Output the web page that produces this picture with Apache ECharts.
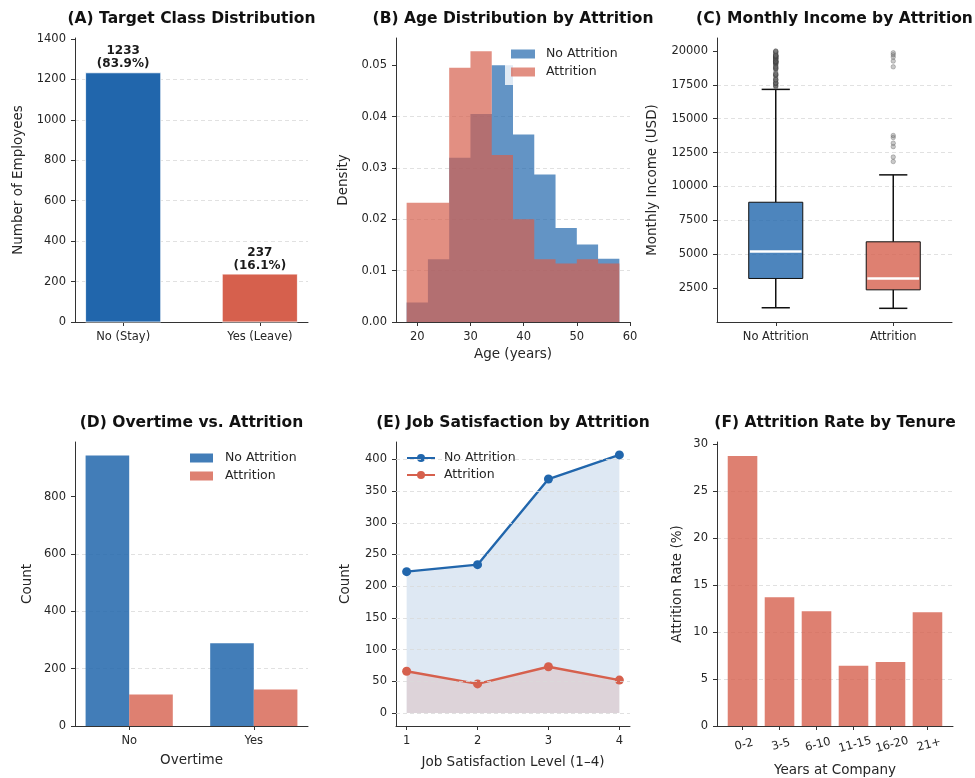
<!DOCTYPE html>
<html>
<head>
<meta charset="utf-8">
<title>Employee Attrition Overview</title>
<script src="https://cdn.jsdelivr.net/npm/echarts@6/dist/echarts.min.js"></script>
<style>
  html, body { margin: 0; padding: 0; background: #ffffff; }
  #chart { width: 975px; height: 778px; }
</style>
</head>
<body>
<div id="chart"></div>
<script>
// ---------------- data ----------------
const panelTitles = [
  '(A) Target Class Distribution',
  '(B) Age Distribution by Attrition',
  '(C) Monthly Income by Attrition',
  '(D) Overtime vs. Attrition',
  '(E) Job Satisfaction by Attrition',
  '(F) Attrition Rate by Tenure'
];

// (A) class balance
const classLabels = ['No (Stay)', 'Yes (Leave)'];
const classCounts = [1233, 237];

// (B) age histogram (density), bins of 4 years
const ageBinEdges = [18, 22, 26, 30, 34, 38, 42, 46, 50, 54, 58];
const ageDensityStay  = [0.0038, 0.0122, 0.0320, 0.0405, 0.0500, 0.0365, 0.0287, 0.0183, 0.0151, 0.0123];
const ageDensityLeave = [0.0232, 0.0232, 0.0495, 0.0527, 0.0325, 0.0200, 0.0122, 0.0114, 0.0122, 0.0114];

// (C) monthly income box statistics: [lower whisker, Q1, median, Q3, upper whisker]
const incomeGroups = ['No Attrition', 'Attrition'];
const incomeStayBox  = [1051, 3211, 5204, 8834, 17159];
const incomeLeaveBox = [1009, 2373, 3202, 5916, 10854];
const incomeStayOutliers = [17328, 17399, 17426, 17465, 17567, 17584, 17603, 17639, 17650, 17665,
  17779, 17856, 17861, 17875, 17924, 18041, 18172, 18200, 18213, 18265, 18300, 18303, 18430,
  18606, 18665, 18711, 18722, 18740, 18789, 18844, 18880, 18947, 19033, 19045, 19068, 19094,
  19141, 19144, 19161, 19187, 19189, 19197, 19202, 19232, 19237, 19246, 19272, 19294, 19328,
  19392, 19406, 19419, 19431, 19436, 19502, 19513, 19517, 19537, 19566, 19586, 19613, 19626,
  19627, 19636, 19658, 19665, 19701, 19740, 19833, 19847, 19926, 19943, 19973, 19999];
const incomeLeaveOutliers = [11836, 12169, 12936, 13194, 13610, 13758, 18824, 19246, 19545, 19717, 19859];

// (D) overtime
const overtimeLabels = ['No', 'Yes'];
const overtimeStay  = [944, 289];
const overtimeLeave = [110, 127];

// (E) job satisfaction
const satisfactionLevels = [1, 2, 3, 4];
const satisfactionStay  = [223, 234, 369, 407];
const satisfactionLeave = [66, 46, 73, 52];

// (F) attrition rate by tenure
const tenureLabels = ['0-2', '3-5', '6-10', '11-15', '16-20', '21+'];
const tenureRate = [28.7, 13.7, 12.2, 6.4, 6.8, 12.1];

// tick values
const ticksA  = [0, 200, 400, 600, 800, 1000, 1200, 1400];
const ticksBy = [0, 0.01, 0.02, 0.03, 0.04, 0.05];
const ticksBx = [20, 30, 40, 50, 60];
const ticksC  = [2500, 5000, 7500, 10000, 12500, 15000, 17500, 20000];
const ticksD  = [0, 200, 400, 600, 800];
const ticksE  = [0, 50, 100, 150, 200, 250, 300, 350, 400];
const ticksF  = [0, 5, 10, 15, 20, 25, 30];

// ---------------- styling ----------------
const FONT = '"DejaVu Sans", sans-serif';
const AXIS_COLOR = '#333333';
const TEXT_COLOR = '#262626';
const BLUE = '#2166ac';
const RED = '#d6604d';
const HIST_BLUE = 'rgba(33,102,172,0.7)';
const HIST_RED = 'rgba(214,96,77,0.7)';
const BAR_BLUE = 'rgba(33,102,172,0.85)';
const BAR_RED = 'rgba(214,96,77,0.8)';
const GRID_LINE = { color: '#d9d9d9', width: 0.8, type: [4, 3] };

const grids = [
  { left: 75,  top: 38,  width: 233, height: 284 },
  { left: 396, top: 38,  width: 234, height: 284 },
  { left: 717, top: 38,  width: 235, height: 284 },
  { left: 75,  top: 442, width: 233, height: 284 },
  { left: 396, top: 442, width: 234, height: 284 },
  { left: 717, top: 442, width: 236, height: 284 }
];

function yAxisOf(g, min, max, interval, ticks, fmt, name, nameGap, showGrid) {
  return {
    type: 'value', gridIndex: g, min: min, max: max, interval: interval,
    name: name, nameLocation: 'middle', nameGap: nameGap, nameRotate: 90,
    nameTextStyle: { fontFamily: FONT, fontSize: 13.5, color: TEXT_COLOR },
    axisLine: { show: true, onZero: false, lineStyle: { color: AXIS_COLOR, width: 1 } },
    axisTick: { show: true, length: 4, customValues: ticks, lineStyle: { color: AXIS_COLOR, width: 1 } },
    axisLabel: { customValues: ticks, formatter: fmt, margin: 9, fontFamily: FONT, fontSize: 11.5, color: TEXT_COLOR },
    splitLine: { show: showGrid, showMinLine: false, showMaxLine: false, lineStyle: GRID_LINE }
  };
}

function xAxisOf(g, min, max, ticks, fmt, name, nameGap, labelExtra) {
  return {
    type: 'value', gridIndex: g, min: min, max: max,
    name: name, nameLocation: 'middle', nameGap: nameGap,
    nameTextStyle: { fontFamily: FONT, fontSize: 13.5, color: TEXT_COLOR },
    axisLine: { show: true, onZero: false, lineStyle: { color: AXIS_COLOR, width: 1 } },
    axisTick: { show: true, length: 4, customValues: ticks, lineStyle: { color: AXIS_COLOR, width: 1 } },
    axisLabel: Object.assign({ customValues: ticks, formatter: fmt, margin: 9, fontFamily: FONT, fontSize: 11.5, color: TEXT_COLOR }, labelExtra || {}),
    splitLine: { show: false }
  };
}

const byIndex = (labels) => (v) => labels[Math.round(v)] || '';

// rectangle from data-space corners
function rectFromCoords(api, x0, x1, y0, y1, style) {
  const a = api.coord([x0, y1]);
  const b = api.coord([x1, y0]);
  return { type: 'rect', shape: { x: a[0], y: a[1], width: b[0] - a[0], height: b[1] - a[1] }, style: style };
}

// ---------------- series ----------------
const classTotal = classCounts.reduce((s, v) => s + v, 0);
const classColors = [BLUE, RED];

const seriesA = {
  type: 'custom', xAxisIndex: 0, yAxisIndex: 0, clip: false,
  data: classCounts.map((c, i) => [i, c]),
  encode: { x: 0, y: 1 },
  renderItem: function (params, api) {
    const i = api.value(0), v = api.value(1);
    const bar = rectFromCoords(api, i - 0.275, i + 0.275, 0, v, { fill: classColors[params.dataIndex], stroke: '#ffffff', lineWidth: 0.8 });
    const top = api.coord([i, v]);
    const pct = (v / classTotal * 100).toFixed(1);
    return {
      type: 'group',
      children: [bar, {
        type: 'text', x: top[0], y: top[1] - 2,
        style: {
          text: v + '\n(' + pct + '%)', align: 'center', verticalAlign: 'bottom',
          fontFamily: FONT, fontSize: 12, fontWeight: 'bold', fill: '#1a1a1a', lineHeight: 13
        }
      }]
    };
  }
};

// histogram drawn as a stepped filled area from bin edges
function histSeries(name, density, color) {
  const pts = density.map((d, i) => [ageBinEdges[i], d]);
  pts.push([ageBinEdges[ageBinEdges.length - 1], density[density.length - 1]]);
  return {
    type: 'line', name: name, xAxisIndex: 1, yAxisIndex: 1,
    data: pts, step: 'end', symbol: 'none', showSymbol: false,
    lineStyle: { width: 0, opacity: 0 },
    itemStyle: { color: color },
    areaStyle: { color: color, opacity: 1 }
  };
}

const boxColors = ['rgba(33,102,172,0.8)', 'rgba(214,96,77,0.8)'];
const seriesCBox = {
  type: 'custom', xAxisIndex: 2, yAxisIndex: 2,
  data: [[1].concat(incomeStayBox), [2].concat(incomeLeaveBox)],
  encode: { x: 0, y: [1, 2, 3, 4, 5] },
  z: 3,
  renderItem: function (params, api) {
    const x = api.value(0);
    const lo = api.value(1), q1 = api.value(2), med = api.value(3), q3 = api.value(4), hi = api.value(5);
    const half = 0.23, cap = 0.12;
    const P = (a, b) => api.coord([a, b]);
    const seg = (p, q, style) => ({ type: 'line', shape: { x1: p[0], y1: p[1], x2: q[0], y2: q[1] }, style: style });
    const ink = { stroke: '#111111', lineWidth: 1.5 };
    return {
      type: 'group',
      children: [
        seg(P(x, q3), P(x, hi), ink),
        seg(P(x, q1), P(x, lo), ink),
        seg(P(x - cap, hi), P(x + cap, hi), ink),
        seg(P(x - cap, lo), P(x + cap, lo), ink),
        rectFromCoords(api, x - half, x + half, q1, q3, { fill: boxColors[params.dataIndex], stroke: '#111111', lineWidth: 1 }),
        seg(P(x - half + 0.01, med), P(x + half - 0.01, med), { stroke: '#ffffff', lineWidth: 2.5 })
      ]
    };
  }
};

function outlierSeries(pos, values) {
  return {
    type: 'scatter', xAxisIndex: 2, yAxisIndex: 2, z: 4,
    data: values.map(v => [pos, v]),
    symbol: 'circle', symbolSize: 4.5,
    itemStyle: { color: 'rgba(120,120,120,0.5)', borderColor: 'rgba(50,50,50,0.55)', borderWidth: 0.6 }
  };
}

function groupedBars(name, values, offset, color) {
  return {
    type: 'custom', name: name, xAxisIndex: 3, yAxisIndex: 3,
    itemStyle: { color: color },
    data: values.map((v, i) => [i, v]),
    encode: { x: 0, y: 1 },
    renderItem: function (params, api) {
      const i = api.value(0);
      return rectFromCoords(api, i + offset - 0.175, i + offset + 0.175, 0, api.value(1), { fill: color });
    }
  };
}

const gridMarkE = {
  silent: true, symbol: 'none', animation: false,
  label: { show: false },
  lineStyle: GRID_LINE,
  data: ticksE.map(v => ({ yAxis: v }))
};

function satisfactionSeries(name, values, color, fill, z, withGrid) {
  const s = {
    type: 'line', name: name, xAxisIndex: 4, yAxisIndex: 4, z: z,
    data: satisfactionLevels.map((l, i) => [l, values[i]]),
    symbol: 'circle', symbolSize: 9,
    lineStyle: { color: color, width: 2.4 },
    itemStyle: { color: color },
    areaStyle: { color: fill, opacity: 1 }
  };
  if (withGrid) s.markLine = gridMarkE;
  return s;
}

const seriesF = {
  type: 'custom', xAxisIndex: 5, yAxisIndex: 5,
  data: tenureRate.map((r, i) => [i, r]),
  encode: { x: 0, y: 1 },
  renderItem: function (params, api) {
    const i = api.value(0);
    return rectFromCoords(api, i - 0.4, i + 0.4, 0, api.value(1), { fill: BAR_RED });
  }
};

// ---------------- legends ----------------
const stripPrefix = (n) => n.slice(2);
function legendText(padLeft) {
  return { fontFamily: FONT, fontSize: 12.5, color: TEXT_COLOR, lineHeight: 14, padding: [0, 0, 0, padLeft] };
}

const legends = [
  {
    left: 505, top: 42, orient: 'vertical', selectedMode: false,
    padding: [5, 6, 6, 6], backgroundColor: 'rgba(255,255,255,0.8)',
    itemWidth: 24, itemHeight: 9, itemGap: 4, icon: 'rect',
    formatter: stripPrefix, textStyle: legendText(6),
    data: [
      { name: 'B:No Attrition', itemStyle: { color: HIST_BLUE, borderWidth: 0 } },
      { name: 'B:Attrition', itemStyle: { color: HIST_RED, borderWidth: 0 } }
    ]
  },
  {
    left: 190, top: 451, orient: 'vertical', selectedMode: false,
    padding: 0, itemWidth: 23, itemHeight: 9, itemGap: 4, icon: 'rect',
    formatter: stripPrefix, textStyle: legendText(7),
    data: [
      { name: 'D:No Attrition', itemStyle: { color: BAR_BLUE, borderWidth: 0 } },
      { name: 'D:Attrition', itemStyle: { color: BAR_RED, borderWidth: 0 } }
    ]
  },
  {
    left: 401, top: 448, orient: 'vertical', selectedMode: false,
    padding: [3, 5, 3, 5], backgroundColor: 'rgba(255,255,255,0.85)',
    itemWidth: 28, itemHeight: 10, itemGap: 3,
    formatter: stripPrefix, textStyle: legendText(4),
    data: ['E:No Attrition', 'E:Attrition']
  }
];

// ---------------- titles ----------------
const titleGraphics = grids.map((g, i) => ({
  type: 'text',
  x: g.left + g.width / 2,
  y: g.top - 19,
  style: {
    text: panelTitles[i], align: 'center', verticalAlign: 'middle',
    fontFamily: FONT, fontSize: 15.5, fontWeight: 'bold', fill: '#111111'
  }
}));

// ---------------- chart ----------------
const chart = echarts.init(document.getElementById('chart'), null, { renderer: 'canvas' });
chart.setOption({
  backgroundColor: '#ffffff',
  animation: false,
  grid: grids.map(g => Object.assign({ containLabel: false }, g)),
  xAxis: [
    xAxisOf(0, -0.3525, 1.3525, [0, 1], byIndex(classLabels), '', 0),
    xAxisOf(1, 16, 60, ticksBx, (v) => String(v), 'Age (years)', 25),
    xAxisOf(2, 0.5, 2.5, [1, 2], (v) => incomeGroups[Math.round(v) - 1] || '', '', 0),
    xAxisOf(3, -0.435, 1.435, [0, 1], byIndex(overtimeLabels), 'Overtime', 27),
    xAxisOf(4, 0.85, 4.15, satisfactionLevels, (v) => String(v), 'Job Satisfaction Level (1\u20134)', 29),
    xAxisOf(5, -0.69, 5.69, [0, 1, 2, 3, 4, 5], byIndex(tenureLabels), 'Years at Company', 37,
      { rotate: 15, align: 'center', verticalAlign: 'top', margin: 13 })
  ],
  yAxis: [
    yAxisOf(0, 0, 1405, 200, ticksA, (v) => String(v), 'Number of Employees', 50, true),
    yAxisOf(1, 0, 0.0553, 0.01, ticksBy, (v) => v.toFixed(2), 'Density', 46, true),
    yAxisOf(2, 0, 20950, 2500, ticksC, (v) => String(v), 'Monthly Income (USD)', 58, true),
    yAxisOf(3, 0, 991, 200, ticksD, (v) => String(v), 'Count', 41, true),
    yAxisOf(4, -20.35, 427.35, undefined, ticksE, (v) => String(v), 'Count', 44, false),
    yAxisOf(5, 0, 30.2, 5, ticksF, (v) => String(v), 'Attrition Rate (%)', 33, true)
  ],
  legend: legends,
  graphic: titleGraphics,
  series: [
    seriesA,
    histSeries('B:No Attrition', ageDensityStay, HIST_BLUE),
    histSeries('B:Attrition', ageDensityLeave, HIST_RED),
    seriesCBox,
    outlierSeries(1, incomeStayOutliers),
    outlierSeries(2, incomeLeaveOutliers),
    groupedBars('D:No Attrition', overtimeStay, -0.175, BAR_BLUE),
    groupedBars('D:Attrition', overtimeLeave, 0.175, BAR_RED),
    satisfactionSeries('E:No Attrition', satisfactionStay, BLUE, 'rgba(33,102,172,0.15)', 2, true),
    satisfactionSeries('E:Attrition', satisfactionLeave, RED, 'rgba(214,96,77,0.15)', 3, false),
    seriesF
  ]
});
</script>
</body>
</html>
